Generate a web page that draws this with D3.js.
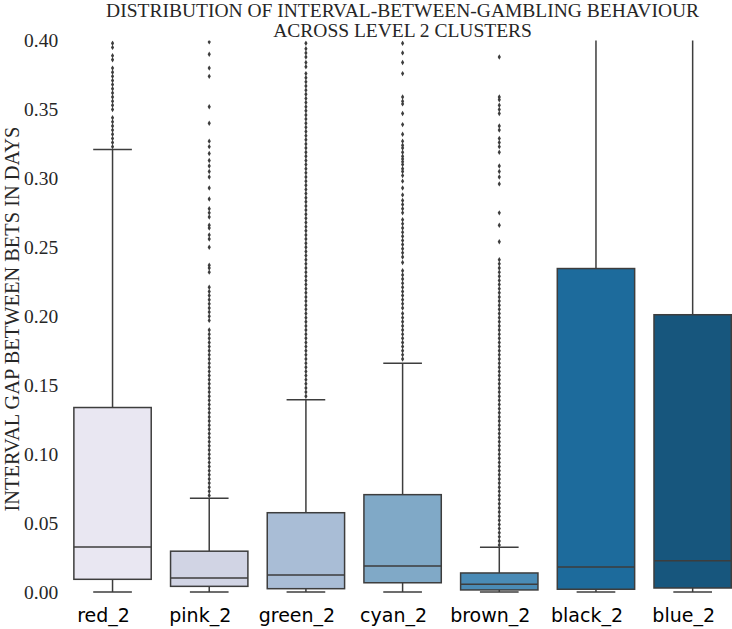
<!DOCTYPE html>
<html>
<head>
<meta charset="utf-8">
<script src="https://cdn.jsdelivr.net/npm/d3@7"></script>
<style>
  html, body { margin: 0; padding: 0; background: #ffffff; }
  svg { display: block; }
</style>
</head>
<body>
<div id="chart"></div>
<script>
// ---- data ----
const categories = ["red_2", "pink_2", "green_2", "cyan_2", "brown_2", "black_2", "blue_2"];
const boxColors = ["#e9e7f2", "#d1d4e4", "#a9bdd6", "#80a9c7", "#4a8bb6", "#1d6b9c", "#17567d"];
const whiskerLow  = [0, 0, 0, 0, 0, 0, 0];
const q1          = [0.0092, 0.0041, 0.0024, 0.0067, 0.0015, 0.0020, 0.0029];
const median      = [0.0326, 0.0102, 0.0123, 0.0189, 0.0056, 0.0181, 0.0227];
const q3          = [0.1338, 0.0296, 0.0575, 0.0706, 0.0138, 0.2346, 0.2011];
const whiskerHigh = [0.3210, 0.0680, 0.1395, 0.1659, 0.0324, 0.5000, 0.5000];

const outliersRed = [0.323,0.326,0.329,0.332,0.335,0.338,0.341,0.344,0.350,0.353,0.356,0.359,0.362,0.365,0.368,0.371,0.374,0.377,0.380,0.386,0.389,0.395,0.398];
const outliersPink = [0.399,0.390,0.380,0.374,0.352,0.340,0.327,0.323,0.318,0.313,0.309,0.305,0.301,0.293,0.285,0.278,0.275,0.272,0.266,0.264,0.259,0.256,0.250,0.237,0.235,0.232,0.221,0.218,0.215,0.212,0.209,0.206,0.203,0.200,0.197,
  0.190,0.187,0.184,0.181,0.178,0.175,0.172,0.169,0.166,0.163,0.160,0.157,0.154,0.151,0.148,0.145,0.142,0.139,0.136,0.133,0.130,0.127,0.124,0.121,0.118,0.115,0.112,0.109,0.106,0.103,0.100,0.097,0.094,0.091,0.088,0.085,0.082,0.079,0.076,0.073,0.070];
const outliersGreen = [0.398,0.394,0.391,0.388,0.384,0.381,0.376,0.373,0.370,0.367,0.364,0.361,0.358,0.355,0.352,0.349,0.346,0.343,0.340,0.337,0.334,0.331,0.328,0.325,0.322,0.319,0.316,0.313,0.310,0.307,0.304,0.301,0.298,0.295,0.292,0.289,0.286,0.283,0.280,0.277,0.274,0.271,0.268,0.265,0.262,0.259,0.256,0.253,0.250,0.247,0.244,0.241,0.238,0.235,0.232,0.229,0.226,0.223,0.220,0.217,0.214,0.211,0.208,0.205,0.202,0.199,0.196,0.193,0.190,0.187,0.184,0.181,0.178,0.175,0.172,0.169,0.166,0.163,0.160,0.157,0.154,0.151,0.148,0.145,0.142];
const outliersCyan = [0.398,0.391,0.384,0.376,0.359,0.356,0.354,0.347,0.339,0.332,0.327,0.324,0.322,0.319,0.316,0.314,0.312,0.310,0.307,0.305,0.302,0.298,0.293,0.288,0.284,0.281,0.278,0.275,0.270,0.267,0.264,0.261,0.258,0.255,0.252,0.249,0.246,0.243,0.239,0.233,0.230,0.227,0.224,0.221,0.218,0.215,0.212,0.209,0.206,0.202,0.199,0.196,0.193,0.190,0.187,0.184,0.181,0.178,0.175,0.172,0.169];
const outliersBrown = [0.388,0.359,0.357,0.353,0.350,0.347,0.338,0.335,0.329,0.326,0.323,0.319,0.309,0.305,0.301,0.296,0.275,0.266,0.254,
  0.241,0.238,0.235,0.232,0.229,0.226,0.223,0.220,0.217,0.214,0.211,0.208,0.205,0.202,0.199,0.196,0.193,0.190,0.187,0.184,0.181,0.178,0.175,0.172,0.169,0.166,0.163,0.160,0.157,0.154,0.151,0.148,0.145,0.142,0.139,0.136,0.133,0.130,0.127,0.124,0.121,0.118,0.115,0.112,0.109,0.106,0.103,0.100,0.097,0.094,0.091,0.088,0.085,0.082,0.079,0.076,0.073,0.070,0.067,0.064,0.061,0.058,0.055,0.052,0.049,0.046,0.043,0.040,0.037,0.034];
const outliersBlack = [];
const outliersBlue = [];
const outliers = [outliersRed, outliersPink, outliersGreen, outliersCyan, outliersBrown, outliersBlack, outliersBlue];
const yTicks = [0.00, 0.05, 0.10, 0.15, 0.20, 0.25, 0.30, 0.35, 0.40];
const titleLines = ["DISTRIBUTION OF INTERVAL-BETWEEN-GAMBLING BEHAVIOUR", "ACROSS LEVEL 2 CLUSTERS"];
const yLabel = "INTERVAL GAP BETWEEN BETS IN DAYS";

// ---- layout ----
const W = 732, H = 629;
const plotLeft = 64.2, plotRight = 741, plotTop = 40.5, plotBottom = 592;
const lineColor = "#3d3d3d";
const serif = "'Liberation Serif', 'Times New Roman', serif";

const svg = d3.select("#chart").append("svg").attr("width", W).attr("height", H);

const x = d3.scaleBand().domain(categories).range([plotLeft, plotRight]).paddingInner(0).paddingOuter(0);
const y = d3.scaleLinear().domain([0, 0.40]).range([plotBottom, plotTop]);

svg.append("defs").append("clipPath").attr("id", "clip")
  .append("rect").attr("x", 0).attr("y", plotTop).attr("width", W).attr("height", plotBottom - plotTop + 10);

const g = svg.append("g").attr("clip-path", "url(#clip)");

const boxW = x.bandwidth() * 0.8;
const capW = boxW / 2;

const data = categories.map((c, i) => ({
  cat: c, color: boxColors[i], lo: whiskerLow[i], q1: q1[i], med: median[i], q3: q3[i], hi: whiskerHigh[i], out: outliers[i]
}));

const cx = d => x(d.cat) + x.bandwidth() / 2;
const grp = g.selectAll("g.box").data(data).join("g").attr("class", "box");

// whiskers
grp.append("line").attr("x1", cx).attr("x2", cx)
  .attr("y1", d => y(d.q3)).attr("y2", d => y(d.hi))
  .attr("stroke", lineColor).attr("stroke-width", 1.5);
grp.append("line").attr("x1", cx).attr("x2", cx)
  .attr("y1", d => y(d.q1)).attr("y2", d => y(d.lo))
  .attr("stroke", lineColor).attr("stroke-width", 1.5);
// caps
grp.append("line")
  .attr("x1", d => cx(d) - capW / 2).attr("x2", d => cx(d) + capW / 2)
  .attr("y1", d => y(d.hi)).attr("y2", d => y(d.hi))
  .attr("stroke", lineColor).attr("stroke-width", 1.5);
grp.append("line")
  .attr("x1", d => cx(d) - capW / 2).attr("x2", d => cx(d) + capW / 2)
  .attr("y1", d => y(d.lo)).attr("y2", d => y(d.lo))
  .attr("stroke", lineColor).attr("stroke-width", 1.5);
// box
grp.append("rect")
  .attr("x", d => cx(d) - boxW / 2)
  .attr("width", boxW)
  .attr("y", d => y(d.q3))
  .attr("height", d => y(d.q1) - y(d.q3))
  .attr("fill", d => d.color)
  .attr("stroke", lineColor).attr("stroke-width", 1.5);
// median
grp.append("line")
  .attr("x1", d => cx(d) - boxW / 2).attr("x2", d => cx(d) + boxW / 2)
  .attr("y1", d => y(d.med)).attr("y2", d => y(d.med))
  .attr("stroke", lineColor).attr("stroke-width", 1.5);

// fliers (thin diamonds)
const diamond = "M0,-2.7L1.6,0L0,2.7L-1.6,0Z";
grp.each(function(d) {
  d3.select(this).selectAll("path.flier").data(d.out).join("path")
    .attr("class", "flier")
    .attr("d", diamond)
    .attr("transform", v => `translate(${cx(d)},${y(v)})`)
    .attr("fill", lineColor);
});

// y axis (no line, no ticks)
const yAxis = d3.axisLeft(y).tickValues(yTicks).tickFormat(d3.format(".2f")).tickSize(0).tickPadding(6);
const ya = svg.append("g").attr("transform", `translate(${plotLeft},0)`).call(yAxis);
ya.select(".domain").remove();
ya.selectAll("text").attr("font-family", serif).attr("font-size", 19.5).attr("fill", "#262626");

// x axis
const xAxis = d3.axisBottom(x).tickSize(0).tickPadding(17);
const xa = svg.append("g").attr("transform", `translate(0,${plotBottom})`).call(xAxis);
xa.select(".domain").remove();
xa.selectAll("text").attr("font-family", "'DejaVu Sans', sans-serif").attr("font-size", 19).attr("fill", "#000").attr("dx", -9);

// title (two lines)
svg.selectAll("text.title").data(titleLines).join("text")
  .attr("class", "title")
  .attr("text-anchor", "middle")
  .attr("x", (plotLeft + plotRight) / 2)
  .attr("y", (d, i) => i === 0 ? 16.5 : 37)
  .attr("font-family", serif).attr("font-size", 19.5).attr("fill", "#262626")
  .text(d => d);

// y label
svg.append("text")
  .attr("transform", `translate(19,319) rotate(-90)`)
  .attr("text-anchor", "middle")
  .attr("font-family", serif).attr("font-size", 20.4).attr("fill", "#262626")
  .text(yLabel);
</script>
</body>
</html>
